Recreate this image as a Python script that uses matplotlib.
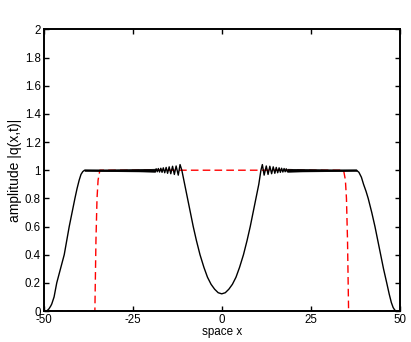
import numpy as np
import matplotlib
matplotlib.use("Agg")
import matplotlib.pyplot as plt

plt.rcParams['font.family'] = ['Liberation Sans', 'DejaVu Sans']

# ---- black curve |q(x,t)| ----
left_rise_x = [-50.0, -49.5, -49.0, -48.5, -48.0, -47.7, -47.05, -46.3, -45.25, -44.2, -43.5,
               -42.8, -42.0, -41.2, -40.6, -40.0, -39.5, -39.0, -38.5]
left_rise_y = [0.0, 0.0, 0.003, 0.015, 0.035, 0.05, 0.1, 0.2, 0.3, 0.4, 0.5,
               0.6, 0.7, 0.8, 0.87, 0.93, 0.97, 0.99, 1.0]

left_wig_x = [-18.7, -18.4, -18.1, -17.8, -17.45, -17.1, -16.75, -16.4, -16.0, -15.6,
              -15.2, -14.75, -14.3, -13.8, -13.3, -12.8, -12.2, -11.7]
left_wig_y = [0.99, 1.01, 0.989, 1.012, 0.987, 1.014, 0.985, 1.017, 0.982, 1.02,
              0.978, 1.024, 0.975, 1.028, 0.97, 1.03, 0.965, 1.04]

dip_x = [-11.2, -10.4, -9.6, -8.8, -8.0, -7.1, -6.1, -5.0, -4.0, -3.0, -2.0, -1.0, 0.0,
         1.0, 2.0, 3.0, 4.0, 5.0, 6.1, 7.1, 8.0, 8.8, 9.6, 10.4, 11.0]
dip_y = [1.0, 0.9, 0.8, 0.7, 0.6, 0.5, 0.4, 0.31, 0.24, 0.19, 0.155, 0.13, 0.122,
         0.13, 0.155, 0.19, 0.24, 0.31, 0.4, 0.5, 0.6, 0.7, 0.8, 0.9, 1.0]

right_wig_x = [11.4, 11.9, 12.5, 13.0, 13.5, 14.0, 14.45, 14.9, 15.3, 15.7,
               16.1, 16.45, 16.8, 17.15, 17.5, 17.8, 18.1, 18.4]
right_wig_y = [1.04, 0.965, 1.03, 0.97, 1.028, 0.975, 1.024, 0.978, 1.02, 0.982,
               1.017, 0.985, 1.014, 0.987, 1.012, 0.989, 1.01, 0.99]

right_fall_x = [37.8, 38.5, 39.2, 39.8, 40.5, 41.1, 42.1, 43.0, 43.8, 44.6, 45.4,
                46.3, 47.0, 47.6, 48.1, 48.6, 49.2, 50.0]
right_fall_y = [1.0, 0.985, 0.95, 0.9, 0.85, 0.8, 0.7, 0.6, 0.5, 0.4, 0.3,
                0.2, 0.12, 0.06, 0.025, 0.005, 0.0, 0.0]

# dense fast-oscillation bands (envelope half-width around 1)
band_left_x = [-38.5, -34.0, -30.0, -26.0, -22.0, -18.7]
band_left_h = [0.004, 0.005, 0.006, 0.007, 0.008, 0.010]
band_right_x = [18.4, 22.0, 26.0, 30.0, 34.0, 37.8]
band_right_h = [0.010, 0.008, 0.007, 0.006, 0.005, 0.004]

# ---- red dashed reference profile ----
red_x = [-50.0, -35.6, -35.3, -35.0, -34.7, -34.2, 34.2, 34.7, 35.0, 35.3, 35.6, 50.0]
red_y = [0.0, 0.0, 0.5, 0.8, 0.93, 1.0, 1.0, 0.93, 0.8, 0.5, 0.0, 0.0]

xticks = [-50, -25, 0, 25, 50]
yticks = [0, 0.2, 0.4, 0.6, 0.8, 1, 1.2, 1.4, 1.6, 1.8, 2]
ytick_labels = ['0', '0.2', '0.4', '0.6', '0.8', '1', '1.2', '1.4', '1.6', '1.8', '2']

bx = left_rise_x + left_wig_x + dip_x + right_wig_x + right_fall_x
by = left_rise_y + left_wig_y + dip_y + right_wig_y + right_fall_y

fig = plt.figure(figsize=(4.11, 3.42), dpi=100)
ax = fig.add_axes([0.106, 0.0906, 0.867, 0.8234])

ax.plot(red_x, red_y, color='#ff0000', lw=1.0, dashes=(5.5, 3.0), zorder=2)
ax.plot(bx, by, color='black', lw=1.0, zorder=3)
for bxs, bh in ((band_left_x, band_left_h), (band_right_x, band_right_h)):
    bxs = np.array(bxs); bh = np.array(bh)
    ax.fill_between(bxs, 1 - bh, 1 + bh, color='black', lw=0.6, zorder=3)

ax.set_xlim(-50, 50)
ax.set_ylim(0, 2)
ax.set_xticks(xticks)
ax.set_xticklabels([str(t) for t in xticks])
ax.set_yticks(yticks)
ax.set_yticklabels(ytick_labels)
ax.tick_params(direction='in', top=True, right=True, length=3.5, width=1.0,
               labelsize=8.3, pad=2)
for s in ax.spines.values():
    s.set_linewidth(1.4)
ax.set_xlabel('space x', fontsize=8.4, labelpad=0.5)
ax.set_ylabel('amplitude |q(x,t)|', fontsize=10, labelpad=2)

fig.savefig('out.png', dpi=100)
